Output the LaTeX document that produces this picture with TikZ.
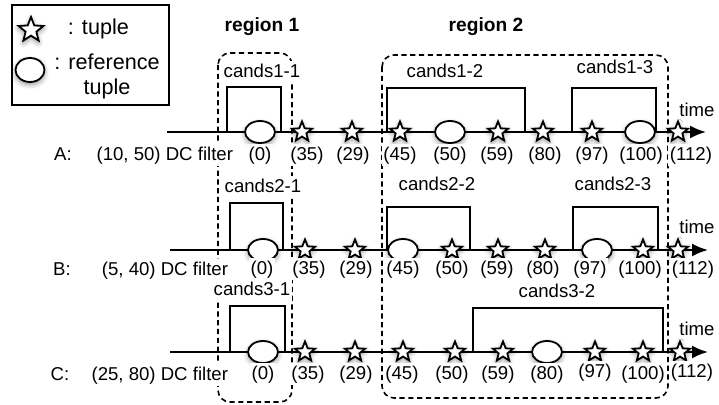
\documentclass[tikz,border=0pt]{standalone}
\usepackage{fontspec}
\setmainfont{Liberation Sans}
\usetikzlibrary{shapes.geometric,shadows.blur,arrows.meta}
\newcommand{\pxUnit}[0]{0.5pt}
\newcommand{\tupleSize}[0]{10.5pt}
\newcommand{\shadowOpacity}[0]{45}

\begin{document}
\begin{tikzpicture}[x=\pxUnit, y=-\pxUnit, font=\fontsize{9.3}{11}\selectfont]
  \tikzset{tuple/.style={star, star points=5, star point ratio=2.3, draw, line width=0.9pt, fill=white, minimum size=\tupleSize, inner sep=0pt, blur shadow={shadow xshift=0pt, shadow yshift=-1.2pt, shadow blur radius=2.5pt, shadow opacity=\shadowOpacity}}}
  \tikzset{reftuple/.style={ellipse, draw, line width=0.9pt, fill=white, minimum width=15pt, minimum height=11pt, inner sep=0pt, blur shadow={shadow xshift=0pt, shadow yshift=-1.2pt, shadow blur radius=2.5pt, shadow opacity=\shadowOpacity}}}
  \tikzset{lbl/.style={fill=white, inner sep=0.8pt, text height=0.75em, text depth=0.22em}}
  \tikzset{keytext/.style={fill=white, inner sep=0.8pt, font=\fontsize{10.8}{12.5}\selectfont}}
  \tikzset{region/.style={dashed, dash pattern=on 2.6pt off 1.8pt, line width=0.8pt, rounded corners=6pt}}
  \tikzset{cand/.style={line width=0.8pt}}
  \tikzset{axis/.style={line width=1pt, -{Latex[length=8pt,width=6.5pt]}}}
  \useasboundingbox (0,0) rectangle (719,405);
  \draw[line width=1pt] (12,5) rectangle (169,105);
  \node[tuple, minimum size=13pt] (key-star) at (31,30) {};
  \node[keytext, anchor=west] (key-star-t) at (66,29) {: tuple};
  \node[reftuple, minimum width=14.5pt, minimum height=12pt] (key-ref) at (30,70) {};
  \node[keytext, align=center] (key-ref-t) at (107,76) {: reference\\tuple};
  \node[lbl, font=\fontsize{9.6}{11}\selectfont\bfseries] (reg-1) at (262,26) {region 1};
  \node[lbl, font=\fontsize{9.6}{11}\selectfont\bfseries] (reg-2) at (486,26) {region 2};
  \draw[region] (218,53) rectangle (292,402);
  \draw[region] (382,55) rectangle (668,398);
  \draw[cand] (227,132) |- (281,87) -- (281,132);
  \draw[cand] (387,132) |- (525,88) -- (525,132);
  \draw[cand] (572,132) |- (656,88) -- (656,132);
  \draw[cand] (230,250) |- (283,203) -- (283,250);
  \draw[cand] (387,250) |- (470,207) -- (470,250);
  \draw[cand] (573,250) |- (658,207) -- (658,250);
  \draw[cand] (230,352) |- (285,306) -- (285,352);
  \draw[cand] (473,352) |- (663,308) -- (663,352);
  \node[lbl] (cands1-1) at (262,72) {cands1-1};
  \node[lbl] (cands1-2) at (445,72) {cands1-2};
  \node[lbl] (cands1-3) at (615,68) {cands1-3};
  \node[lbl] (cands2-1) at (263,187) {cands2-1};
  \node[lbl] (cands2-2) at (437,185) {cands2-2};
  \node[lbl] (cands2-3) at (613,185) {cands2-3};
  \node[lbl] (cands3-1) at (252,290) {cands3-1};
  \node[lbl] (cands3-2) at (557,292) {cands3-2};
  \coordinate (A-start) at (167,132);
  \coordinate (A-end) at (706,132);
  \coordinate (B-start) at (170,250);
  \coordinate (B-end) at (708,250);
  \coordinate (C-start) at (170,352);
  \coordinate (C-end) at (708,352);
  \draw[axis] (A-start) -- (A-end);
  \draw[axis] (B-start) -- (B-end);
  \draw[axis] (C-start) -- (C-end);
  \node[lbl] (A-time) at (697,111) {time};
  \node[lbl] (B-time) at (697,228) {time};
  \node[lbl] (C-time) at (697,330) {time};
  \node[lbl] (A-name) at (63,155) {A:};
  \node[lbl, anchor=east] (A-filter) at (235,155) {(10, 50) DC filter};
  \node[lbl] (B-name) at (62,270) {B:};
  \node[lbl, anchor=east] (B-filter) at (230,270) {(5, 40) DC filter};
  \node[lbl] (C-name) at (60,375) {C:};
  \node[lbl, anchor=east] (C-filter) at (230,375) {(25, 80) DC filter};
  \node[reftuple] (A-0) at (260,132) {};
  \node[tuple] (A-35) at (302,132) {};
  \node[tuple] (A-29) at (352,132) {};
  \node[tuple] (A-45) at (400,132) {};
  \node[reftuple] (A-50) at (450,132) {};
  \node[tuple] (A-59) at (498,132) {};
  \node[tuple] (A-80) at (543,132) {};
  \node[tuple] (A-97) at (592,132) {};
  \node[reftuple] (A-100) at (640,132) {};
  \node[tuple] (A-112) at (678,132) {};
  \node[lbl] (A-0-l) at (260,155) {(0)};
  \node[lbl] (A-35-l) at (307,155) {(35)};
  \node[lbl] (A-29-l) at (353,155) {(29)};
  \node[lbl] (A-45-l) at (400,155) {(45)};
  \node[lbl] (A-50-l) at (450,155) {(50)};
  \node[lbl] (A-59-l) at (497,155) {(59)};
  \node[lbl] (A-80-l) at (545,155) {(80)};
  \node[lbl] (A-97-l) at (592,155) {(97)};
  \node[lbl] (A-100-l) at (641,155) {(100)};
  \node[lbl] (A-112-l) at (691,155) {(112)};
  \node[reftuple] (B-0) at (263,250) {};
  \node[tuple] (B-35) at (305,250) {};
  \node[tuple] (B-29) at (355,250) {};
  \node[reftuple] (B-45) at (403,250) {};
  \node[tuple] (B-50) at (452,250) {};
  \node[tuple] (B-59) at (498,250) {};
  \node[tuple] (B-80) at (545,250) {};
  \node[reftuple] (B-97) at (597,250) {};
  \node[tuple] (B-100) at (643,250) {};
  \node[tuple] (B-112) at (678,250) {};
  \node[lbl] (B-0-l) at (262,269) {(0)};
  \node[lbl] (B-35-l) at (309,269) {(35)};
  \node[lbl] (B-29-l) at (356,269) {(29)};
  \node[lbl] (B-45-l) at (403,269) {(45)};
  \node[lbl] (B-50-l) at (452,269) {(50)};
  \node[lbl] (B-59-l) at (497,269) {(59)};
  \node[lbl] (B-80-l) at (543,269) {(80)};
  \node[lbl] (B-97-l) at (590,269) {(97)};
  \node[lbl] (B-100-l) at (640,269) {(100)};
  \node[lbl] (B-112-l) at (693,269) {(112)};
  \node[reftuple] (C-0) at (263,352) {};
  \node[tuple] (C-35) at (305,352) {};
  \node[tuple] (C-29) at (355,352) {};
  \node[tuple] (C-45) at (403,352) {};
  \node[tuple] (C-50) at (455,352) {};
  \node[tuple] (C-59) at (503,352) {};
  \node[reftuple] (C-80) at (547,352) {};
  \node[tuple] (C-97) at (595,352) {};
  \node[tuple] (C-100) at (643,352) {};
  \node[tuple] (C-112) at (680,352) {};
  \node[lbl] (C-0-l) at (263,374) {(0)};
  \node[lbl] (C-35-l) at (308,374) {(35)};
  \node[lbl] (C-29-l) at (356,374) {(29)};
  \node[lbl] (C-45-l) at (402,374) {(45)};
  \node[lbl] (C-50-l) at (452,374) {(50)};
  \node[lbl] (C-59-l) at (498,374) {(59)};
  \node[lbl] (C-80-l) at (547,374) {(80)};
  \node[lbl] (C-97-l) at (595,372) {(97)};
  \node[lbl] (C-100-l) at (643,374) {(100)};
  \node[lbl] (C-112-l) at (692,372) {(112)};
\end{tikzpicture}
\end{document}
